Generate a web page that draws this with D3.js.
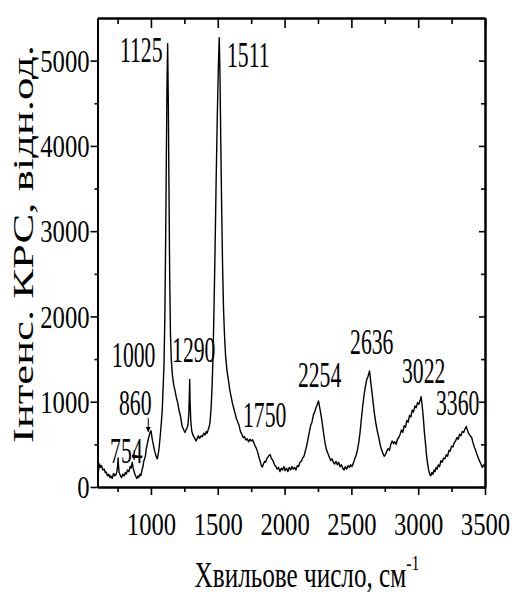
<!DOCTYPE html>
<html>
<head>
<meta charset="utf-8">
<script src="https://cdn.jsdelivr.net/npm/d3@7"></script>
<style>
  body { margin: 0; background: #fff; }
  text { font-family: "Liberation Serif", "Times New Roman", serif; fill: #000; }
</style>
</head>
<body>
<div id="okvir"></div>
<script>
// podaci ocitani sa slike (valni broj, cm-1 / intenzitet, rel. jed.)
const valniBroj = [
  600, 607, 615, 622, 630, 640, 650, 658, 665, 675, 685, 693, 700, 710, 720, 730, 740, 746, 751, 754,
  757, 762, 770, 780, 790, 800, 808, 815, 825, 835, 845, 852, 860, 866, 872, 880, 888, 895, 903, 910,
  918, 925, 933, 940, 946, 952, 958, 965, 972, 980, 987, 993, 1000, 1006, 1012, 1020, 1028, 1035, 1042, 1048,
  1055, 1062, 1070, 1078, 1085, 1092, 1098, 1104, 1110, 1115, 1120, 1125, 1130, 1135, 1140, 1146, 1152, 1160, 1170, 1180,
  1190, 1200, 1210, 1218, 1225, 1232, 1240, 1248, 1255, 1262, 1270, 1277, 1283, 1287, 1290, 1293, 1298, 1305, 1312, 1320,
  1328, 1338, 1346, 1355, 1364, 1375, 1385, 1395, 1405, 1413, 1420, 1428, 1435, 1442, 1450, 1458, 1465, 1472, 1480, 1488,
  1496, 1504, 1511, 1517, 1523, 1529, 1536, 1543, 1550, 1558, 1568, 1580, 1590, 1600, 1610, 1620, 1630, 1640, 1650, 1660,
  1670, 1680, 1690, 1700, 1710, 1720, 1730, 1740, 1750, 1760, 1770, 1780, 1790, 1800, 1810, 1818, 1826, 1834, 1842, 1850,
  1858, 1866, 1875, 1884, 1892, 1900, 1908, 1916, 1925, 1935, 1945, 1955, 1965, 1975, 1985, 1995, 2005, 2015, 2025, 2035,
  2045, 2055, 2065, 2075, 2085, 2095, 2105, 2115, 2125, 2135, 2145, 2155, 2165, 2175, 2185, 2195, 2205, 2215, 2225, 2235,
  2245, 2254, 2262, 2270, 2278, 2286, 2295, 2305, 2315, 2325, 2335, 2345, 2355, 2365, 2375, 2385, 2395, 2405, 2415, 2425,
  2435, 2445, 2455, 2465, 2475, 2485, 2495, 2505, 2515, 2525, 2535, 2545, 2555, 2565, 2575, 2585, 2595, 2605, 2615, 2625,
  2636, 2645, 2655, 2665, 2675, 2685, 2695, 2705, 2715, 2725, 2735, 2745, 2755, 2765, 2775, 2785, 2795, 2805, 2815, 2825,
  2835, 2845, 2855, 2865, 2875, 2885, 2895, 2905, 2915, 2925, 2935, 2945, 2955, 2965, 2975, 2985, 2995, 3005, 3015, 3022,
  3030, 3038, 3046, 3054, 3062, 3070, 3078, 3086, 3094, 3102, 3110, 3118, 3126, 3134, 3142, 3150, 3160, 3170, 3180, 3190,
  3200, 3210, 3220, 3230, 3240, 3250, 3260, 3270, 3280, 3290, 3300, 3310, 3320, 3330, 3340, 3350, 3360, 3370, 3380, 3390,
  3400, 3410, 3420, 3430, 3440, 3450, 3460, 3470, 3480, 3490, 3500
]
const intenzitet = [
  230, 180, 270, 230, 250, 200, 210, 170, 175, 130, 150, 110, 130, 100, 160, 130, 150, 190, 260, 340,
  250, 170, 140, 110, 150, 130, 170, 150, 200, 180, 240, 220, 290, 230, 190, 150, 120, 100, 130, 115,
  150, 135, 200, 240, 300, 330, 360, 450, 500, 560, 600, 640, 660, 600, 540, 480, 420, 380, 345, 330,
  390, 470, 610, 760, 920, 1200, 1450, 2000, 2900, 3800, 4700, 5200, 4500, 3500, 2500, 1800, 1500, 1320, 1200, 1130,
  1050, 990, 900, 850, 800, 720, 690, 660, 640, 670, 690, 730, 850, 1050, 1260, 1000, 780, 660, 620, 590,
  570, 540, 570, 600, 570, 600, 590, 630, 610, 650, 630, 670, 700, 760, 920, 1200, 1550, 2100, 2800, 3600,
  4300, 4900, 5270, 4800, 4000, 3300, 2600, 2100, 1800, 1550, 1380, 1250, 1140, 1060, 980, 920, 860, 800, 760, 720,
  650, 620, 580, 590, 550, 565, 530, 560, 540, 555, 520, 480, 450, 400, 340, 300, 250, 235, 270, 300,
  290, 330, 350, 370, 380, 340, 320, 300, 260, 240, 210, 230, 180, 220, 200, 240, 190, 220, 180, 230,
  200, 240, 210, 230, 200, 250, 240, 290, 300, 340, 360, 420, 480, 560, 640, 720, 760, 840, 880, 930,
  970, 1010, 940, 870, 790, 700, 600, 500, 430, 390, 350, 310, 330, 290, 270, 300, 260, 290, 240, 260,
  220, 200, 240, 210, 250, 230, 260, 240, 280, 330, 370, 430, 520, 640, 800, 950, 1080, 1180, 1260, 1300,
  1360, 1230, 1100, 960, 830, 730, 650, 580, 500, 440, 400, 360, 380, 420, 450, 430, 500, 540, 510, 530,
  500, 560, 580, 620, 670, 640, 720, 700, 780, 760, 840, 820, 900, 880, 950, 930, 990, 970, 1020, 1060,
  950, 820, 650, 520, 380, 280, 200, 150, 130, 170, 150, 200, 180, 230, 210, 260, 240, 310, 290, 340,
  330, 380, 360, 430, 420, 480, 470, 520, 540, 580, 560, 620, 600, 650, 640, 680, 710, 660, 620, 600,
  580, 520, 470, 430, 380, 340, 300, 270, 230, 260, 240
]

// oznake vrhova: tekst i polozaj (u jedinicama podataka)
const oznakeTekst = ["1125", "1511", "1000", "1290", "860", "754", "1750", "2254", "2636", "3022", "3360"]
const oznakeX = [768, 1569, 709, 1158, 761, 694, 1689, 2100, 2490, 2879, 3133]
const oznakeY = [4984, 4926, 1407, 1466, 844, 281, 704, 1173, 1560, 1220, 844]

// strelice: valni broj, pocetak i vrh
const strelicaX = [875, 980]
const strelicaOd = [434, 809]
const strelicaDo = [317, 645]

const xGlavne = [1000, 1500, 2000, 2500, 3000, 3500]
const xSporedne = [750, 1250, 1750, 2250, 2750, 3250]
const yGlavne = [0, 1000, 2000, 3000, 4000, 5000]
const ySporedne = [500, 1500, 2500, 3500, 4500]

function crtaj() {
  const dataset = d3.zip(valniBroj, intenzitet)

  // 1. dimenzije
  let dimenzije = {
    sirina: 513,
    visina: 594,
    margine: { top: 18, right: 28, bottom: 107, left: 97.5 },
  }
  dimenzije.grSirina = dimenzije.sirina - dimenzije.margine.left - dimenzije.margine.right
  dimenzije.grVisina = dimenzije.visina - dimenzije.margine.top - dimenzije.margine.bottom

  const okvir = d3.select("#okvir")
    .append("svg")
      .attr("width", dimenzije.sirina)
      .attr("height", dimenzije.visina)

  const granice = okvir.append("g")
      .attr("transform", `translate(${dimenzije.margine.left}, ${dimenzije.margine.top})`)

  // 2. skale
  const xSkala = d3.scaleLinear()
    .domain([600, 3500])
    .range([0, dimenzije.grSirina])

  const ySkala = d3.scaleLinear()
    .domain([0, 5500])
    .range([dimenzije.grVisina, 0])

  // 3. spektar
  const linija = d3.line()
    .x(d => xSkala(d[0]))
    .y(d => ySkala(d[1]))

  granice.append("path")
      .datum(dataset)
      .attr("d", linija)
      .attr("fill", "none")
      .attr("stroke", "#000")
      .attr("stroke-width", 1.4)
      .attr("stroke-linejoin", "round")

  // 4. osi
  const stilOsi = g => {
    g.select(".domain").attr("stroke-width", 2)
    g.selectAll(".tick line").attr("stroke-width", 1.6)
  }
  const format = d3.format("d")

  // donja
  granice.append("g")
      .attr("transform", `translate(0, ${dimenzije.grVisina})`)
      .call(d3.axisBottom(xSkala).tickValues(xSporedne).tickSize(5).tickFormat("").tickSizeOuter(0))
      .call(stilOsi)
  const xOs = granice.append("g")
      .attr("transform", `translate(0, ${dimenzije.grVisina})`)
      .call(d3.axisBottom(xSkala).tickValues(xGlavne).tickSize(8).tickFormat(format).tickSizeOuter(0))
      .call(stilOsi)
  xOs.selectAll("text")
      .attr("y", 48)
      .attr("dy", 0)
      .attr("font-size", 32)
      .attr("transform", "scale(0.77,1)")

  // gornja
  granice.append("g")
      .call(d3.axisTop(xSkala).tickValues(xSporedne).tickSize(-6).tickFormat("").tickSizeOuter(0))
      .call(stilOsi)
  granice.append("g")
      .call(d3.axisTop(xSkala).tickValues(xGlavne).tickSize(-10).tickFormat("").tickSizeOuter(0))
      .call(stilOsi)

  // lijeva
  granice.append("g")
      .call(d3.axisLeft(ySkala).tickValues(ySporedne).tickSize(3).tickFormat("").tickSizeOuter(0))
      .call(stilOsi)
  const yOs = granice.append("g")
      .call(d3.axisLeft(ySkala).tickValues(yGlavne).tickSize(7).tickFormat(format).tickSizeOuter(0))
      .call(stilOsi)
  yOs.selectAll("text")
      .attr("x", -8 / 0.77)
      .attr("dy", "0.33em")
      .attr("font-size", 32)
      .attr("transform", "scale(0.77,1)")

  // desna
  granice.append("g")
      .attr("transform", `translate(${dimenzije.grSirina}, 0)`)
      .call(d3.axisRight(ySkala).tickValues(ySporedne).tickSize(-4).tickFormat("").tickSizeOuter(0))
      .call(stilOsi)
  granice.append("g")
      .attr("transform", `translate(${dimenzije.grSirina}, 0)`)
      .call(d3.axisRight(ySkala).tickValues(yGlavne).tickSize(-6).tickFormat("").tickSizeOuter(0))
      .call(stilOsi)

  // 5. oznake vrhova
  granice.selectAll(".oznaka")
    .data(oznakeTekst)
    .join("text")
      .attr("class", "oznaka")
      .attr("transform", (d, i) => `translate(${xSkala(oznakeX[i])}, ${ySkala(oznakeY[i])}) scale(0.62,1)`)
      .attr("font-size", 35)
      .text(d => d)

  // strelice
  okvir.append("defs").append("marker")
      .attr("id", "vrh")
      .attr("viewBox", "0 0 10 10")
      .attr("refX", 10)
      .attr("refY", 5)
      .attr("markerWidth", 5)
      .attr("markerHeight", 5)
      .attr("markerUnits", "userSpaceOnUse")
      .attr("orient", "auto")
    .append("path")
      .attr("d", "M0,0 L10,5 L0,10 z")
      .attr("fill", "#000")

  granice.selectAll(".strelica")
    .data(strelicaX)
    .join("line")
      .attr("class", "strelica")
      .attr("x1", d => xSkala(d))
      .attr("x2", d => xSkala(d))
      .attr("y1", (d, i) => ySkala(strelicaOd[i]))
      .attr("y2", (d, i) => ySkala(strelicaDo[i]))
      .attr("stroke", "#000")
      .attr("stroke-width", 1)
      .attr("marker-end", "url(#vrh)")

  // 6. naslovi osi
  const xNaslov = okvir.append("text")
      .attr("transform", "translate(307, 587) scale(0.72,1)")
      .attr("text-anchor", "middle")
      .attr("font-size", 35)
  xNaslov.append("tspan").text("Хвильове число, см")
  xNaslov.append("tspan")
      .attr("font-size", 22)
      .attr("dy", -17)
      .text("-1")

  okvir.append("text")
      .attr("transform", "translate(33, 244) rotate(-90)")
      .attr("text-anchor", "middle")
      .attr("font-size", 29)
      .attr("textLength", 398)
      .attr("lengthAdjust", "spacingAndGlyphs")
      .text("Інтенс. КРС, відн.од.")
}
crtaj()
</script>
</body>
</html>
